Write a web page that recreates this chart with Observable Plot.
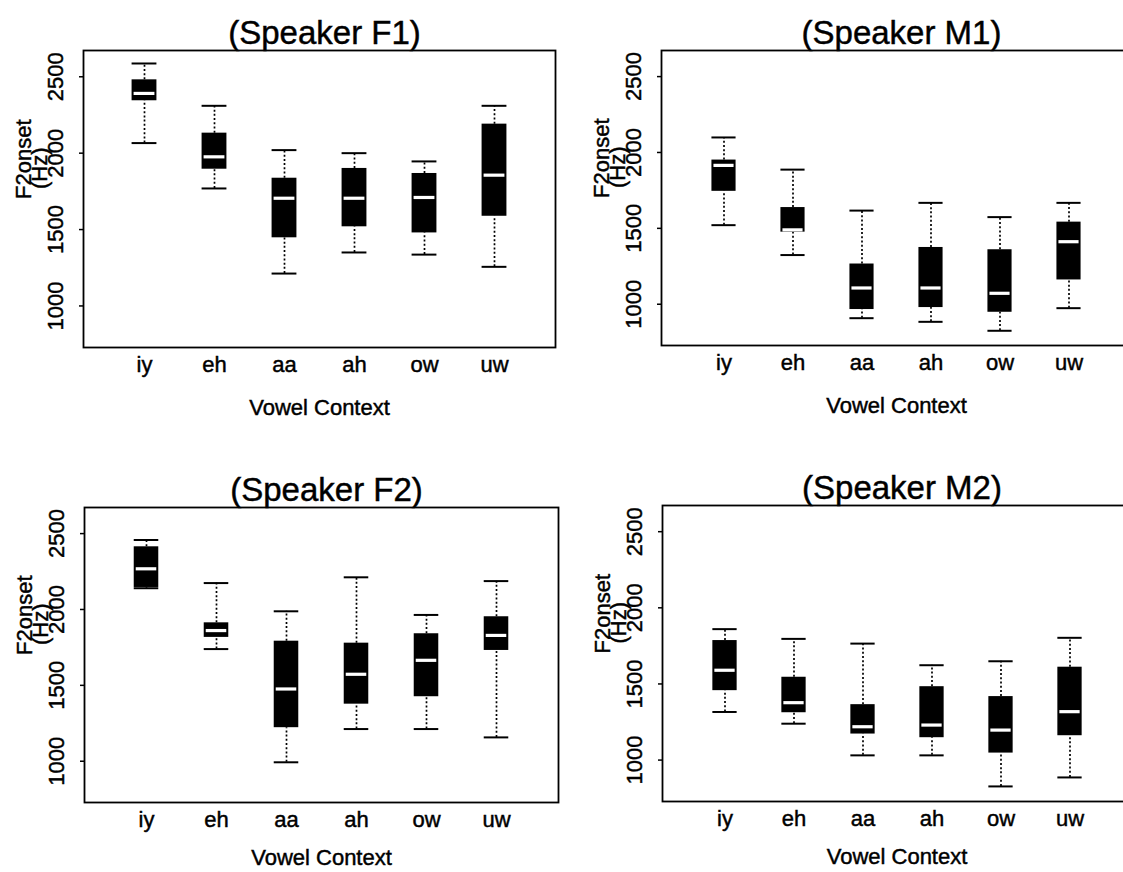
<!DOCTYPE html>
<html>
<head>
<meta charset="utf-8">
<script src="https://cdn.jsdelivr.net/npm/d3@7"></script>
<script src="https://cdn.jsdelivr.net/npm/@observablehq/plot@0.6"></script>
<style>
  html, body { margin: 0; padding: 0; background: #fff; }
  #figure { position: relative; width: 1123px; height: 872px; overflow: hidden; background: #fff; }
  #figure svg { position: absolute; }
  /* slightly heavier lettering */
  #figure svg text { stroke: black; stroke-width: 0.45px; }
</style>
</head>
<body>
<div id="figure"></div>
<script>
// Vowel contexts along the x axis
const vowels = ["iy", "eh", "aa", "ah", "ow", "uw"];
const yTicks = [1000, 1500, 2000, 2500];

// Box-plot summaries of F2 onset (Hz): lower whisker, Q1, median, Q3, upper whisker
const f1Lower  = [2066, 1769, 1212, 1350, 1336, 1256];
const f1Q1     = [2343, 1895, 1446, 1518, 1478, 1587];
const f1Median = [2391, 1976, 1705, 1705, 1710, 1856];
const f1Q3     = [2480, 2131, 1836, 1900, 1867, 2190];
const f1Upper  = [2587, 2310, 2020, 2000, 1946, 2310];

const m1Lower  = [1521, 1324, 908, 884, 825, 974];
const m1Q1     = [1744, 1475, 965, 978, 947, 1160];
const m1Median = [1915, 1490, 1107, 1107, 1072, 1412];
const m1Q3     = [1950, 1637, 1265, 1374, 1359, 1541];
const m1Upper  = [2099, 1887, 1617, 1668, 1574, 1668];

const f2Lower  = [2140, 1739, 993, 1212, 1212, 1157];
const f2Q1     = [2145, 1816, 1221, 1376, 1425, 1730];
const f2Median = [2268, 1861, 1476, 1573, 1665, 1829];
const f2Q3     = [2413, 1912, 1791, 1778, 1840, 1952];
const f2Upper  = [2458, 2174, 1988, 2212, 1964, 2187];

const m2Lower  = [1316, 1239, 1031, 1031, 827, 886];
const m2Q1     = [1456, 1311, 1171, 1147, 1046, 1160];
const m2Median = [1590, 1377, 1219, 1230, 1197, 1318];
const m2Q3     = [1785, 1544, 1364, 1482, 1417, 1610];
const m2Upper  = [1860, 1796, 1765, 1623, 1649, 1803];

const FONT = '"Liberation Sans", Arial, Helvetica, sans-serif';
const OUTER = 0.364;   // band padding outside the first and last box
const BOX_W = 25;      // box width in pixels

function panel(opts) {
  const {title, lower, q1, median, q3, upper, left, top, width, height,
         marginLeft, marginRight, marginTop, marginBottom, xTitleOffset} = opts;
  const rows = vowels.map((v, i) => ({
    vowel: v, lower: lower[i], q1: q1[i], median: median[i], q3: q3[i], upper: upper[i]
  }));
  const frameW = width - marginLeft - marginRight;
  const step = frameW / (vowels.length + 2 * OUTER);
  const inset = (step - BOX_W) / 2;

  const svg = Plot.plot({
    width, height, marginLeft, marginRight, marginTop, marginBottom,
    style: {fontFamily: FONT, background: "transparent", color: "black", overflow: "visible"},
    x: {type: "band", domain: vowels, paddingInner: 0, paddingOuter: OUTER},
    y: {domain: [728, 2672]},
    marks: [
      Plot.frame({stroke: "black", strokeWidth: 1.8}),
      Plot.axisY({ticks: yTicks, tickFormat: d => String(d), tickSize: 4, tickRotate: -90,
                  tickPadding: 17, fontSize: 22, strokeWidth: 1.5, label: null}),
      Plot.axisX({tickSize: 0, tickPadding: 9, fontSize: 22, label: null}),
      // dotted whiskers
      Plot.ruleX(rows, {x: "vowel", y1: "q3", y2: "upper", stroke: "black",
                        strokeWidth: 1.7, strokeDasharray: "2,2.2"}),
      Plot.ruleX(rows, {x: "vowel", y1: "lower", y2: "q1", stroke: "black",
                        strokeWidth: 1.7, strokeDasharray: "2,2.2"}),
      // whisker caps
      Plot.tickY(rows, {x: "vowel", y: "upper", stroke: "black", strokeWidth: 2,
                        insetLeft: inset, insetRight: inset}),
      Plot.tickY(rows, {x: "vowel", y: "lower", stroke: "black", strokeWidth: 2,
                        insetLeft: inset, insetRight: inset}),
      // interquartile boxes
      Plot.barY(rows, {x: "vowel", y1: "q1", y2: "q3", fill: "black",
                       insetLeft: inset, insetRight: inset}),
      // medians
      Plot.tickY(rows, {x: "vowel", y: "median", stroke: "white", strokeWidth: 3.2,
                        insetLeft: inset + 2, insetRight: inset + 2}),
      // panel title
      Plot.text([title], {text: d => d, frameAnchor: "top", dy: -17, dx: 5,
                          fontSize: 33, lineAnchor: "middle", fill: "black"}),
      // axis titles
      Plot.text(["Vowel Context"], {text: d => d, frameAnchor: "bottom", dy: xTitleOffset,
                                    fontSize: 22, lineAnchor: "middle", fill: "black"}),
      Plot.text(["F2onset"], {text: d => d, frameAnchor: "left", dx: -60, rotate: -90,
                              fontSize: 22, lineAnchor: "middle", fill: "black"}),
      Plot.text(["(Hz)"], {text: d => d, frameAnchor: "left", dx: -44, dy: -10, rotate: -90,
                           fontSize: 22, lineAnchor: "middle", fill: "black"})
    ]
  });
  svg.style.left = left + "px";
  svg.style.top = top + "px";
  document.getElementById("figure").appendChild(svg);
}

panel({title: "(Speaker F1)", lower: f1Lower, q1: f1Q1, median: f1Median, q3: f1Q3, upper: f1Upper,
       left: 0, top: 0, width: 563, height: 430,
       marginLeft: 83, marginRight: 8, marginTop: 50, marginBottom: 83, xTitleOffset: 60});
panel({title: "(Speaker M1)", lower: m1Lower, q1: m1Q1, median: m1Median, q3: m1Q3, upper: m1Upper,
       left: 560, top: 0, width: 580, height: 430,
       marginLeft: 101, marginRight: 9, marginTop: 50, marginBottom: 85, xTitleOffset: 60});
panel({title: "(Speaker F2)", lower: f2Lower, q1: f2Q1, median: f2Median, q3: f2Q3, upper: f2Upper,
       left: 0, top: 430, width: 563, height: 442,
       marginLeft: 84, marginRight: 5, marginTop: 77, marginBottom: 70, xTitleOffset: 55});
panel({title: "(Speaker M2)", lower: m2Lower, q1: m2Q1, median: m2Median, q3: m2Q3, upper: m2Upper,
       left: 560, top: 430, width: 580, height: 442,
       marginLeft: 102, marginRight: 9, marginTop: 75, marginBottom: 71, xTitleOffset: 55});
</script>
</body>
</html>
